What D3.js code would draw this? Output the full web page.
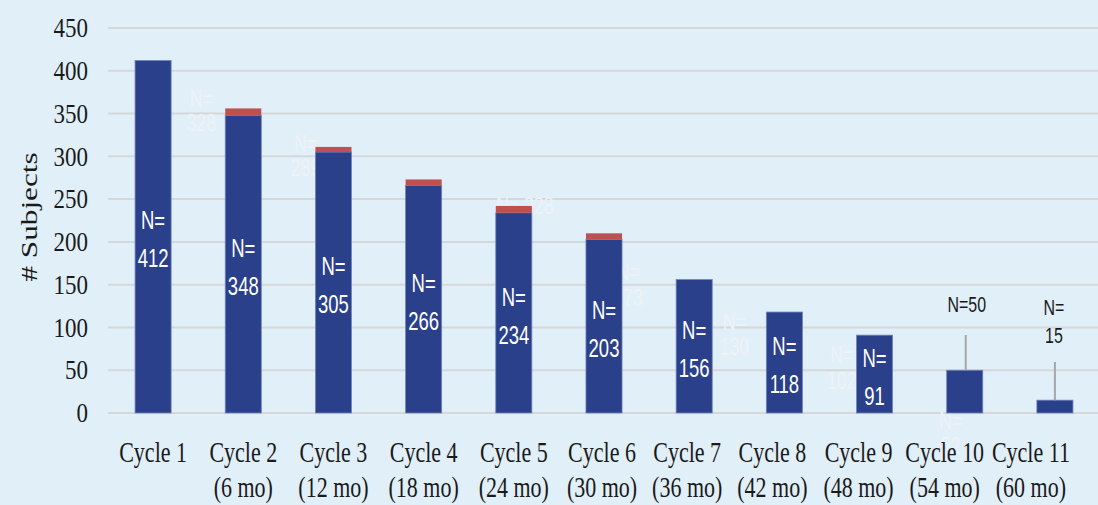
<!DOCTYPE html>
<html lang="en">
<head>
  <meta charset="UTF-8">
  <title>Subjects per Cycle</title>
  <style>
    body {
      margin: 0;
      background-color: #e1eff9;
    }
    svg {
      display: block;
    }
  </style>
</head>
<body>

<svg width="1098" height="505"></svg>

<script src="https://d3js.org/d3.v7.min.js"></script>
<script>

// Chart data
let cycles = ["Cycle 1", "Cycle 2", "Cycle 3", "Cycle 4", "Cycle 5", "Cycle 6",
              "Cycle 7", "Cycle 8", "Cycle 9", "Cycle 10", "Cycle 11"];
let periods = ["", "(6 mo)", "(12 mo)", "(18 mo)", "(24 mo)", "(30 mo)",
               "(36 mo)", "(42 mo)", "(48 mo)", "(54 mo)", "(60 mo)"];
let subjects = [412, 348, 305, 266, 234, 203, 156, 118, 91, 50, 15];
let extra = [0, 8, 6, 7, 8, 7, 0, 0, 0, 0, 0];
let yTicks = [0, 50, 100, 150, 200, 250, 300, 350, 400, 450];

// faint leftover labels seen in the picture
let ghostN = [328, 289, 228, 173, 130, 102, 52];
let ghostCycle = ["Cycle 2", "Cycle 3", "Cycle 5", "Cycle 6", "Cycle 8", "Cycle 9", "Cycle 10"];

let width = 1098, height = 505;
let svg = d3.select("svg");

let x = d3.scaleBand()
    .domain(cycles)
    .range([108, 1100])
    .paddingInner(0.6)
    .paddingOuter(0.3);

let y = d3.scaleLinear()
    .domain([0, 450])
    .range([413, 28]);

let bw = x.bandwidth();
let cx = c => x(c) + bw / 2;

// text helper: the picture's text is squeezed / stretched a little
function stretchedText(g, tx, ty, str, kx, ky) {
  return g.append("text")
      .attr("transform", `translate(${tx},${ty}) scale(${kx},${ky})`)
      .text(str);
}

let narrowFont = "'Liberation Sans Narrow', 'Liberation Sans', Arial, sans-serif";

// Gridlines
svg.append("g")
  .selectAll("line")
  .data(yTicks)
  .enter()
  .append("line")
    .attr("x1", 108)
    .attr("x2", width)
    .attr("y1", d => y(d))
    .attr("y2", d => y(d))
    .attr("stroke", "#d5d8da")
    .attr("stroke-width", 2);

// Ghost labels (very faint)
let ghostOffsets = [[-42, 98, 122], [-28, 143, 167], [11, 205, null], [24, 271, 297],
                    [-50, 321, 346], [-33, 354, 380], [-14, 420, 445]];
let ghosts = svg.append("g")
    .attr("font-family", narrowFont)
    .attr("font-size", 21)
    .attr("fill", "#eef2f6")
    .attr("text-anchor", "middle")
    .attr("dominant-baseline", "central");
ghostN.forEach((n, i) => {
  let o = ghostOffsets[i];
  let gx = cx(ghostCycle[i]) + o[0];
  if (o[2] == null) {
    stretchedText(ghosts, gx, o[1], "N= " + n, 0.84, 1.15);
  } else {
    stretchedText(ghosts, gx, o[1], "N=", 0.84, 1.15);
    stretchedText(ghosts, gx, o[2], n, 0.84, 1.15);
  }
});

// Bars
let bars = svg.append("g");
bars.selectAll("rect.main")
  .data(cycles)
  .enter()
  .append("rect")
    .attr("class", "main")
    .attr("x", d => x(d))
    .attr("width", bw)
    .attr("y", (d, i) => y(subjects[i]))
    .attr("height", (d, i) => y(0) - y(subjects[i]))
    .attr("fill", "#2a408a")
    .attr("stroke", "#6f84bd")
    .attr("stroke-width", 0.8);

bars.selectAll("rect.extra")
  .data(cycles.filter((d, i) => extra[i] > 0))
  .enter()
  .append("rect")
    .attr("class", "extra")
    .attr("x", d => x(d))
    .attr("width", bw)
    .attr("y", d => { let i = cycles.indexOf(d); return y(subjects[i] + extra[i]); })
    .attr("height", d => { let i = cycles.indexOf(d); return y(subjects[i]) - y(subjects[i] + extra[i]); })
    .attr("fill", "#c0504d");

// Labels inside bars
let inside = svg.append("g")
    .attr("font-family", narrowFont)
    .attr("font-size", 22)
    .attr("fill", "white")
    .attr("text-anchor", "middle")
    .attr("dominant-baseline", "central");
cycles.forEach((c, i) => {
  if (subjects[i] < 80) return;
  let mid = y(subjects[i] / 2) + 3;
  stretchedText(inside, cx(c), mid - 19, "N=", 0.84, 1.18);
  stretchedText(inside, cx(c), mid + 19, subjects[i], 0.84, 1.18);
});

// Labels for the small bars, with leader lines
let outside = svg.append("g")
    .attr("font-family", narrowFont)
    .attr("font-size", 19)
    .attr("fill", "#1a1a1a")
    .attr("text-anchor", "middle")
    .attr("dominant-baseline", "central");

let c10 = cycles[9], c11 = cycles[10];
svg.append("line")
    .attr("x1", cx(c10) + 1).attr("x2", cx(c10) + 1)
    .attr("y1", 335).attr("y2", y(subjects[9]))
    .attr("stroke", "#a6a6a6").attr("stroke-width", 2);
stretchedText(outside, cx(c10) + 2, 305, "N=" + subjects[9], 0.84, 1.15);

svg.append("line")
    .attr("x1", cx(c11)).attr("x2", cx(c11))
    .attr("y1", 362).attr("y2", y(subjects[10]))
    .attr("stroke", "#a6a6a6").attr("stroke-width", 2);
stretchedText(outside, cx(c11) - 1, 308, "N=", 0.84, 1.15);
stretchedText(outside, cx(c11) - 1, 336, subjects[10], 0.84, 1.15);

// Y axis tick labels
let yAxis = svg.append("g")
    .attr("font-family", "'Liberation Serif', 'Times New Roman', serif")
    .attr("font-size", 23)
    .attr("fill", "#1a1a1a")
    .attr("text-anchor", "end")
    .attr("dominant-baseline", "central");
yTicks.forEach(t => stretchedText(yAxis, 88, y(t), t, 1, 1.18));

// Y axis title
svg.append("text")
    .attr("transform", "translate(37,217) rotate(-90) scale(1.3,1)")
    .attr("font-family", "'Liberation Serif', 'Times New Roman', serif")
    .attr("font-size", 24)
    .attr("fill", "#1a1a1a")
    .attr("text-anchor", "middle")
    .text("# Subjects");

// X axis labels (the right-hand ones sit a little left of their bars)
let labelShift = [0, 0, 0, 0, 0, -2, -7, -12, -16, -20, -24];
let xAxis = svg.append("g")
    .attr("font-family", "'Liberation Serif', 'Times New Roman', serif")
    .attr("font-size", 22)
    .attr("fill", "#1a1a1a")
    .attr("text-anchor", "middle");
cycles.forEach((c, i) => {
  stretchedText(xAxis, cx(c) + labelShift[i], 462, c, 1, 1.3);
  if (periods[i]) stretchedText(xAxis, cx(c) + labelShift[i], 497, periods[i], 1, 1.3);
});

</script>

</body>
</html>
